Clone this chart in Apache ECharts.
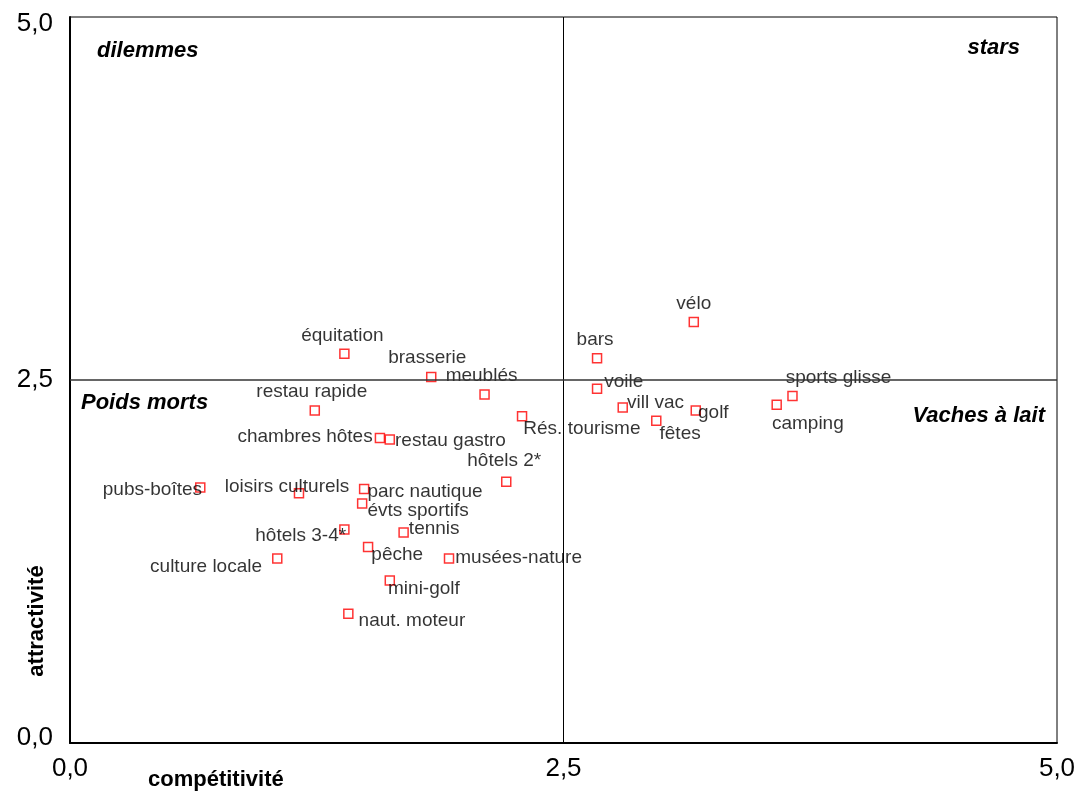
<!DOCTYPE html>
<html>
<head>
<meta charset="utf-8">
<script src="https://cdn.jsdelivr.net/npm/echarts@6/dist/echarts.min.js"></script>
<style>
  html, body { margin: 0; padding: 0; background: #fff; }
  #chart { width: 1084px; height: 794px; }
</style>
</head>
<body>
<div id="chart"></div>
<script>
// activités touristiques : compétitivité (x) / attractivité (y)
const names = [
  'vélo', 'bars', 'équitation', 'brasserie', 'meublés', 'restau rapide', 'voile',
  'vill vac', 'sports glisse', 'golf', 'camping', 'Rés. tourisme', 'fêtes',
  'chambres hôtes', 'restau gastro', 'hôtels 2*', 'pubs-boîtes', 'loisirs culturels',
  'parc nautique', 'évts sportifs', 'hôtels 3-4*', 'tennis', 'culture locale',
  'pêche', 'musées-nature', 'mini-golf', 'naut. moteur'
];
const competitivite = [
  3.16, 2.67, 1.39, 1.83, 2.10, 1.24, 2.67,
  2.80, 3.66, 3.17, 3.58, 2.29, 2.97,
  1.57, 1.62, 2.21, 0.66, 1.16,
  1.49, 1.48, 1.39, 1.69, 1.05,
  1.51, 1.92, 1.62, 1.41
];
const attractivite = [
  2.90, 2.65, 2.68, 2.52, 2.40, 2.29, 2.44,
  2.31, 2.39, 2.29, 2.33, 2.25, 2.22,
  2.10, 2.09, 1.80, 1.76, 1.72,
  1.75, 1.65, 1.47, 1.45, 1.27,
  1.35, 1.27, 1.12, 0.89
];
const axisTicks = [0, 2.5, 5];
const quadrants = ['dilemmes', 'stars', 'Poids morts', 'Vaches à lait'];

// label placement per point: [position, dx, dy]
const labelPlace = [
  ['top', 0, 2], ['top', -2, 1], ['top', -2, 2], ['top', -4, 0], ['top', -3, 1],
  ['top', -3, 1], ['right', -3, -7], ['right', -6, -5], ['right', -17, -18],
  ['right', -8, 2], ['right', -15, 19], ['right', -9, 12], ['right', -7, 13],
  ['left', 3, -1], ['right', -5, 1], ['top', -2, -1], ['left', 12, 2], ['top', -12, 13],
  ['right', -7, 3], ['right', -5, 7], ['left', 12, 6], ['right', -5, -4], ['left', -5, 8],
  ['right', -7, 8], ['right', -4, -1], ['right', -12, 8], ['right', 0, 7]
];

const font = 'Liberation Sans, Arial, sans-serif';
const fmt = (v) => v.toFixed(1).replace('.', ',');

const points = names.map((n, i) => ({
  name: n,
  value: [competitivite[i], attractivite[i]],
  label: { position: labelPlace[i][0] },
}));

const chart = echarts.init(document.getElementById('chart'), null, { renderer: 'canvas' });
chart.setOption({
  animation: false,
  backgroundColor: '#fff',
  textStyle: { fontFamily: font },
  grid: {
    left: 70,
    right: 27,
    top: 17,
    bottom: 51,
    show: true,
    borderColor: '#000',
    borderWidth: 1,
  },
  xAxis: {
    type: 'value',
    min: axisTicks[0],
    max: axisTicks[2],
    interval: axisTicks[1],
    axisLine: { show: true, lineStyle: { color: '#000', width: 2 } },
    axisTick: { show: false },
    splitLine: { show: false },
    axisLabel: { color: '#000', fontSize: 26, fontFamily: font, margin: 13, formatter: fmt },
  },
  yAxis: {
    type: 'value',
    min: axisTicks[0],
    max: axisTicks[2],
    interval: axisTicks[1],
    axisLine: { show: true, lineStyle: { color: '#000', width: 2 } },
    axisTick: { show: false },
    splitLine: { show: false },
    axisLabel: {
      color: '#000', fontSize: 26, fontFamily: font, margin: 17,
      formatter: (v) => {
        if (v === axisTicks[2]) return '{dn|' + fmt(v) + '}';
        if (v === axisTicks[0]) return '{up|' + fmt(v) + '}';
        return fmt(v);
      },
      rich: {
        dn: { fontSize: 26, fontFamily: font, color: '#000', padding: [14, 0, 0, 0] },
        up: { fontSize: 26, fontFamily: font, color: '#000', padding: [0, 0, 10, 0] },
      },
    },
  },
  graphic: [
    { type: 'text', x: 148, y: 780,
      style: { text: 'compétitivité', font: 'bold 22px ' + font, fill: '#000', align: 'left', verticalAlign: 'middle' } },
    { type: 'text', x: 37, y: 621, rotation: Math.PI / 2,
      style: { text: 'attractivité', font: 'bold 22px ' + font, fill: '#000', align: 'center', verticalAlign: 'middle' } },
    { type: 'text', x: 97, y: 51,
      style: { text: quadrants[0], font: 'italic bold 22px ' + font, fill: '#000', align: 'left', verticalAlign: 'middle' } },
    { type: 'text', x: 1020, y: 48,
      style: { text: quadrants[1], font: 'italic bold 22px ' + font, fill: '#000', align: 'right', verticalAlign: 'middle' } },
    { type: 'text', x: 81, y: 403,
      style: { text: quadrants[2], font: 'italic bold 22px ' + font, fill: '#000', align: 'left', verticalAlign: 'middle' } },
    { type: 'text', x: 1045, y: 416,
      style: { text: quadrants[3], font: 'italic bold 22px ' + font, fill: '#000', align: 'right', verticalAlign: 'middle' } },
  ],
  series: [{
    type: 'scatter',
    symbol: 'rect',
    symbolSize: 9,
    itemStyle: { color: '#fff', borderColor: '#ff0000', borderWidth: 1.5 },
    label: {
      show: true,
      formatter: '{b}',
      color: '#000',
      fontSize: 19,
      fontFamily: font,
    },
    labelLayout: (p) => ({ dx: labelPlace[p.dataIndex][1], dy: labelPlace[p.dataIndex][2] }),
    data: points,
    markLine: {
      silent: true,
      symbol: 'none',
      label: { show: false },
      lineStyle: { color: '#000', width: 1, type: 'solid' },
      data: [
        { xAxis: 2.5 },
        { yAxis: 2.5, lineStyle: { color: '#333', width: 1.5, type: 'solid' } },
      ],
    },
  }],
});
</script>
</body>
</html>
